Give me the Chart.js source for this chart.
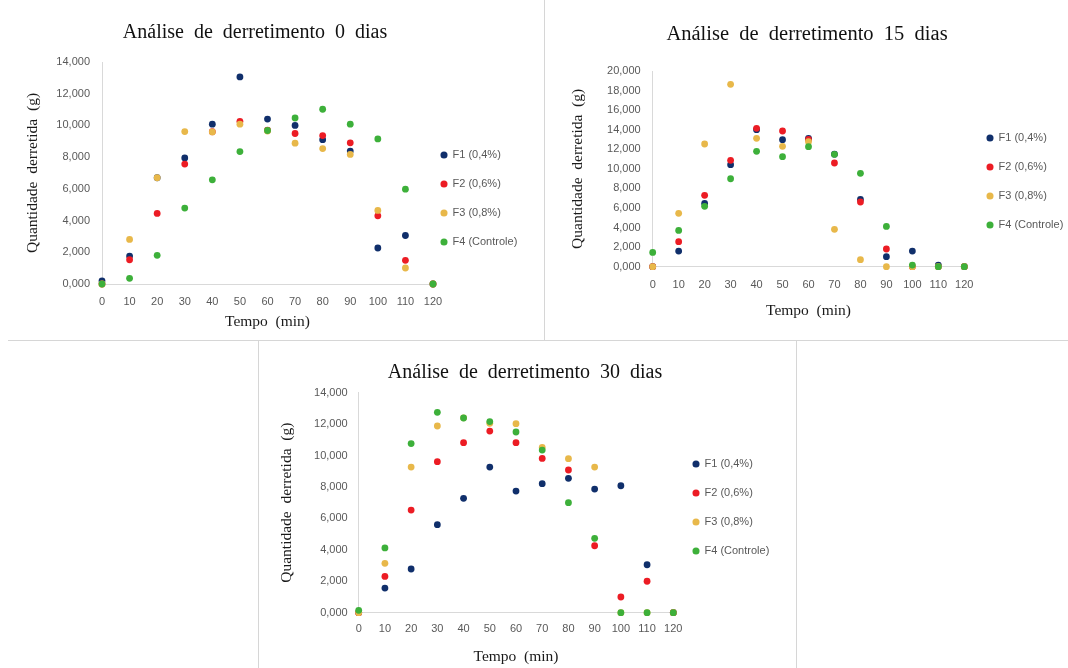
<!DOCTYPE html>
<html lang="pt">
<head>
<meta charset="UTF-8">
<title>Análise de derretimento</title>
<script src="https://cdn.jsdelivr.net/npm/chart.js"></script>
<style>
    body { margin: 0; background: #fff; }
    #page { position: relative; width: 1068px; height: 668px; overflow: hidden; }
    canvas { position: absolute; }
    .line { position: absolute; background: #d6d6d6; }
</style>
</head>
<body>
<div id="page">
    <div class="line" style="left:8px; top:340px; width:1060px; height:1px"></div>
    <div class="line" style="left:544px; top:0; width:1px; height:340px"></div>
    <div class="line" style="left:258px; top:340px; width:1px; height:328px"></div>
    <div class="line" style="left:796px; top:340px; width:1px; height:328px"></div>
    <canvas id="c0" width="544" height="338" style="left:0; top:0"></canvas>
    <canvas id="c15" width="522" height="340" style="left:546px; top:0"></canvas>
    <canvas id="c30" width="537" height="326" style="left:259px; top:342px"></canvas>
</div>
<script>
// tempo (min)
const tempo = [0, 10, 20, 30, 40, 50, 60, 70, 80, 90, 100, 110, 120];
const series = ['F1 (0,4%)', 'F2 (0,6%)', 'F3 (0,8%)', 'F4 (Controle)'];
const colors = ['#102f6b', '#ec1c24', '#e8b84a', '#3db03a'];

// 0 dias (g)
const f1_0 = [0.2, 1.76, 6.7, 7.95, 10.08, 13.06, 10.4, 10.0, 9.1, 8.38, 2.27, 3.06, 0];
const f2_0 = [0, 1.53, 4.45, 7.56, 9.6, 10.26, 9.7, 9.49, 9.36, 8.9, 4.3, 1.49, 0];
const f3_0 = [0, 2.81, 6.7, 9.61, 9.59, 10.08, 9.65, 8.88, 8.54, 8.17, 4.64, 1.01, 0];
const f4_0 = [0, 0.36, 1.81, 4.79, 6.57, 8.35, 9.68, 10.47, 11.02, 10.08, 9.15, 5.98, 0];

// 15 dias (g)
const f1_15 = [0, 1.6, 6.47, 10.43, 14.0, 12.98, 13.12, 11.5, 6.88, 1.02, 1.6, 0.17, 0];
const f2_15 = [0, 2.56, 7.29, 10.87, 14.14, 13.87, 13.0, 10.6, 6.61, 1.81, 0, 0, 0];
const f3_15 = [0, 5.45, 12.54, 18.64, 13.12, 12.3, 12.78, 3.82, 0.72, 0, 0, 0, 0];
const f4_15 = [1.46, 3.71, 6.17, 8.99, 11.79, 11.24, 12.27, 11.48, 9.54, 4.12, 0.17, 0, 0];

// 30 dias (g)
const f1_30 = [0, 1.57, 2.78, 5.6, 7.28, 9.27, 7.74, 8.21, 8.55, 7.87, 8.08, 3.05, 0];
const f2_30 = [0, 2.31, 6.53, 9.61, 10.82, 11.56, 10.82, 9.82, 9.08, 4.26, 1.0, 2.0, 0];
const f3_30 = [0, 3.14, 9.27, 11.88, 12.4, 12.05, 12.03, 10.52, 9.8, 9.27, 0, 0, 0];
const f4_30 = [0.15, 4.12, 10.76, 12.75, 12.39, 12.16, 11.5, 10.35, 7.0, 4.73, 0, 0, 0];

const grey = '#595959';
const sans = 'Liberation Sans';
const serif = 'Liberation Serif';

// fixes legend width and nudges it to where the original sits
const tweak = {
    id: 'tweak',
    beforeInit(chart, args, opts) {
        const lg = chart.legend;
        const fit = lg.fit;
        lg.fit = function () {
            fit.call(this);
            this.width = opts.legendW;
        };
    },
    afterLayout(chart, args, opts) {
        const lg = chart.legend;
        lg.left += opts.dx;
        lg.top += opts.dy;
        lg.right = chart.width;
        lg.bottom = chart.height;
    }
};

function makeChart(id, title, yMax, values, g) {
    const datasets = values.map((vals, i) => ({
        label: series[i],
        data: vals.map((v, k) => ({ x: tempo[k], y: v })),
        backgroundColor: colors[i],
        borderColor: colors[i],
        pointRadius: 3.4,
        pointBorderWidth: 0,
        clip: false,
        order: values.length - i
    }));
    return new Chart(document.getElementById(id), {
        type: 'scatter',
        data: { datasets },
        plugins: [tweak],
        options: {
            responsive: false,
            animation: false,
            layout: { padding: { left: 0, right: g.padRight, top: 0, bottom: 0 } },
            scales: {
                x: {
                    min: 0, max: 120,
                    grid: { display: false, drawTicks: false },
                    border: { display: true, color: '#d9d9d9' },
                    ticks: { stepSize: 10, color: grey, padding: g.xTickPad, font: { family: sans, size: 11 } },
                    title: { display: true, text: 'Tempo  (min)', color: '#1a1a1a', padding: { top: 0, bottom: g.xTitlePad }, font: { family: serif, size: 15.5 } },
                    afterFit: s => { s.height = g.xAxisH; }
                },
                y: {
                    min: 0, max: yMax,
                    grid: { display: false, drawTicks: false },
                    border: { display: true, color: '#d9d9d9' },
                    ticks: {
                        stepSize: 2, color: grey, padding: g.yTickPad, font: { family: sans, size: 11 },
                        callback: v => v.toFixed(3).replace('.', ',')
                    },
                    title: { display: true, text: 'Quantidade  derretida  (g)', color: '#1a1a1a', padding: { top: g.yTitlePad, bottom: 0 }, font: { family: serif, size: 15.5 } },
                    afterFit: s => { s.width = g.yAxisW; }
                }
            },
            plugins: {
                title: {
                    display: true, text: title, color: '#111',
                    font: { family: serif, size: g.titleSize, weight: 'normal' },
                    padding: { top: g.titleTop, bottom: g.titleBottom }
                },
                legend: {
                    position: 'right', align: 'start',
                    labels: {
                        usePointStyle: true, pointStyle: 'circle', boxWidth: 6, boxHeight: 5,
                        padding: 18, color: grey, font: { family: sans, size: 11 },
                        sort: (a, b) => a.datasetIndex - b.datasetIndex
                    }
                },
                tooltip: { enabled: false },
                tweak: { legendW: g.legendW, dx: g.dx, dy: g.dy }
            }
        }
    });
}

makeChart('c0', 'Análise  de  derretimento  0  dias', 14, [f1_0, f2_0, f3_0, f4_0], {
    padRight: 34, titleSize: 20, titleTop: 21, titleBottom: 17,
    yAxisW: 102, xAxisH: 54, legendW: 77, dx: -10, dy: 131.5,
    xTickPad: 11, xTitlePad: 7, yTickPad: 12, yTitlePad: 24
});

makeChart('c15', 'Análise  de  derretimento  15  dias', 20, [f1_15, f2_15, f3_15, f4_15], {
    padRight: 0, titleSize: 20.5, titleTop: 22.7, titleBottom: 23.7,
    yAxisW: 106.7, xAxisH: 73.3, legendW: 103.7, dx: 4.7, dy: 114.5,
    xTickPad: 12, xTitlePad: 19.7, yTickPad: 12, yTitlePad: 23
});

makeChart('c30', 'Análise  de  derretimento  30  dias', 14, [f1_30, f2_30, f3_30, f4_30], {
    padRight: 5, titleSize: 20, titleTop: 19, titleBottom: 7.7,
    yAxisW: 99.7, xAxisH: 55.3, legendW: 117.7, dx: 1.7, dy: 98.5,
    xTickPad: 9.7, xTitlePad: 1.7, yTickPad: 11, yTitlePad: 18.7
});
</script>
</body>
</html>
